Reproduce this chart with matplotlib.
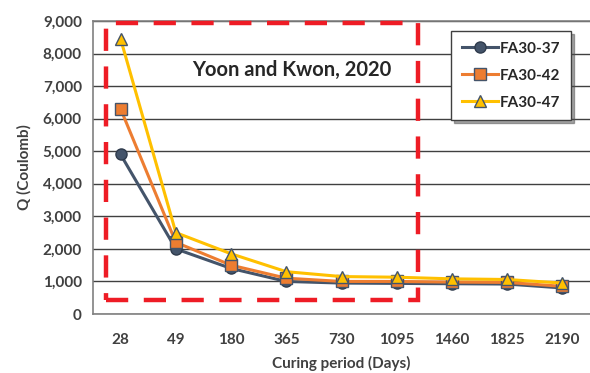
import numpy as np
import matplotlib.pyplot as plt
from matplotlib.patches import Rectangle

plt.rcParams['font.family'] = ['Lato', 'DejaVu Sans']

days = ['28', '49', '180', '365', '730', '1095', '1460', '1825', '2190']
fa30_37 = [4900, 2000, 1400, 1000, 950, 940, 930, 920, 800]
fa30_42 = [6300, 2200, 1500, 1100, 1000, 1000, 980, 970, 850]
fa30_47 = [8450, 2500, 1850, 1300, 1150, 1130, 1080, 1060, 950]

x = np.arange(len(days))
edge = '#44546A'

fig = plt.figure(figsize=(5.9, 3.73), dpi=100)
ax = fig.add_axes([93 / 590, 1 - 314 / 373, 497 / 590, 293 / 373])

ax.plot(x, fa30_37, color='#44546A', lw=2.2, marker='o', ms=8,
        mfc='#44546A', mec='#2F3B4C', mew=1, label='FA30-37', zorder=3)
ax.plot(x, fa30_42, color='#ED7D31', lw=2.2, marker='s', ms=8,
        mfc='#ED7D31', mec=edge, mew=1, label='FA30-42', zorder=4)
ax.plot(x, fa30_47, color='#FFC000', lw=2.2, marker='^', ms=8,
        mfc='#FFC000', mec=edge, mew=1, label='FA30-47', zorder=5)

ax.set_xlim(-0.5, 8.5)
ax.set_ylim(0, 9000)
ax.set_xticks(x)
ax.set_xticklabels(days)
ax.set_yticks(np.arange(0, 9001, 1000))
ax.set_yticklabels([f'{v:,}' for v in range(0, 9001, 1000)])
ax.yaxis.grid(True, color='#404040', lw=1.0)
ax.set_axisbelow(True)

ax.spines['right'].set_visible(False)
for s in ['left', 'bottom', 'top']:
    ax.spines[s].set_color('#808080')
    ax.spines[s].set_linewidth(1.2)

ax.tick_params(length=0, labelsize=11, colors='#404040', pad=8)
ax.tick_params(axis='x', pad=14)
for lbl in ax.get_xticklabels() + ax.get_yticklabels():
    lbl.set_fontweight('bold')

ax.set_xlabel('Curing period (Days)', fontsize=11, fontweight='bold',
              color='#404040', labelpad=6)
ax.set_ylabel('Q (Coulomb)', fontsize=11, fontweight='bold',
              color='#404040', labelpad=8)

# highlighted region of the earlier study
rect = Rectangle((-0.27, 430), 5.65, 8500, fill=False, ec='#EE1C25',
                 lw=3.2, ls=(0, (5, 3.5)), zorder=6, clip_on=False)
ax.add_patch(rect)

ax.text(3.1, 7500, 'Yoon and Kwon, 2020', fontsize=14.5, fontweight='bold',
        color='#262626', ha='center', va='center', zorder=7)

leg = ax.legend(loc='upper right', bbox_to_anchor=(0.962, 0.966),
                borderaxespad=0, frameon=True, fancybox=False, shadow=True,
                fontsize=11, borderpad=0.7, labelspacing=0.85,
                handlelength=2.4, handletextpad=0.1)
leg.get_frame().set_edgecolor('#404040')
leg.get_frame().set_linewidth(1.0)
for t in leg.get_texts():
    t.set_fontweight('bold')
    t.set_color('#262626')

fig.savefig('out.png', dpi=100)
